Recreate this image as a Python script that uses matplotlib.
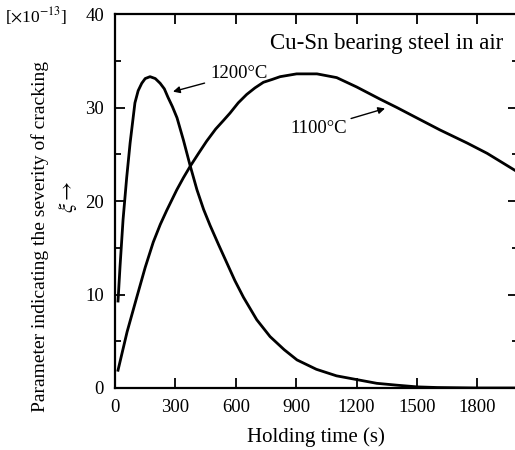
import matplotlib
matplotlib.use("Agg")
import matplotlib.pyplot as plt

# Holding time (s) and crack-severity parameter (x1e-13)
t_1200 = [15, 25, 40, 58, 75, 99, 115, 133, 150, 174, 200, 224, 245, 263, 285, 308,
          340, 373, 407, 440, 472, 515, 555, 595, 638, 704, 770, 840, 904, 1000,
          1100, 1200, 1300, 1400, 1500, 1600, 1800, 2000]
xi_1200 = [9.3, 13.0, 18.0, 22.5, 26.2, 30.5, 31.8, 32.6, 33.1, 33.3, 33.1, 32.6, 32.0, 31.1,
           30.1, 28.9, 26.5, 23.8, 21.2, 19.1, 17.4, 15.3, 13.4, 11.5, 9.7, 7.3, 5.5, 4.1,
           3.0, 2.0, 1.3, 0.9, 0.5, 0.3, 0.12, 0.05, 0.0, 0.0]

t_1100 = [15, 60, 108, 150, 190, 225, 257, 307, 340, 373, 415, 455, 500, 538, 571, 612,
          654, 695, 737, 780, 820, 902, 1003, 1101, 1200, 1316, 1400, 1480, 1614, 1749,
          1848, 2000]
xi_1100 = [1.9, 6.0, 9.7, 12.9, 15.6, 17.5, 19.0, 21.2, 22.5, 23.7, 25.1, 26.4, 27.7, 28.6,
           29.4, 30.5, 31.4, 32.1, 32.7, 33.0, 33.3, 33.6, 33.6, 33.2, 32.2, 30.9, 30.0,
           29.1, 27.6, 26.2, 25.1, 23.1]

x_ticks = [0, 300, 600, 900, 1200, 1500, 1800]
y_ticks = [0, 10, 20, 30, 40]
y_minor = [5, 15, 25, 35]

plt.rcParams["font.family"] = ["Liberation Serif", "DejaVu Serif"]
plt.rcParams["mathtext.fontset"] = "stix"

fig = plt.figure(figsize=(5.15, 4.5), dpi=100)
ax = fig.add_axes([0.2233, 0.1378, 0.782, 0.831])

ax.plot(t_1200, xi_1200, color="black", lw=2.0)
ax.plot(t_1100, xi_1100, color="black", lw=2.0)

ax.set_xlim(0, 2000)
ax.set_ylim(0, 40)
ax.set_xticks(x_ticks)
ax.set_yticks(y_ticks)
ax.set_yticks(y_minor, minor=True)
ax.tick_params(which="major", direction="in", length=7, width=1.3,
               top=True, right=True, labelsize=13.5, pad=8)
ax.tick_params(which="minor", direction="in", length=4, width=1.3, right=True)
for s in ax.spines.values():
    s.set_linewidth(1.6)

ax.set_xlabel("Holding time (s)", fontsize=15, labelpad=8)
fig.text(0.077, 0.475, "Parameter indicating the severity of cracking",
         rotation=90, fontsize=14, ha="center", va="center")
fig.text(0.132, 0.562, r"$\xi\rightarrow$", rotation=90, fontsize=15,
         ha="center", va="center")
fig.text(0.01, 0.965, r"[$\times$10$^{-13}$]", fontsize=12.5, ha="left", va="center")

ax.text(1350, 36.9, "Cu-Sn bearing steel in air", fontsize=16.5, ha="center", va="center")

ax.annotate("1200°C", xy=(288, 31.7), xytext=(472, 33.6), fontsize=13.5,
            ha="left", va="center",
            arrowprops=dict(arrowstyle="-|>", color="black", lw=1.0,
                            shrinkA=2, shrinkB=0, mutation_scale=10))
ax.annotate("1100°C", xy=(1341, 29.9), xytext=(1152, 27.8), fontsize=13.5,
            ha="right", va="center",
            arrowprops=dict(arrowstyle="-|>", color="black", lw=1.0,
                            shrinkA=1, shrinkB=0, mutation_scale=10))

fig.savefig("out.png", dpi=100)
